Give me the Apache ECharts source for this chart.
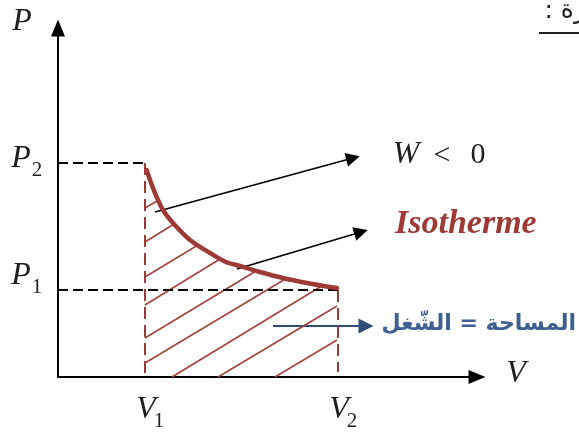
<!DOCTYPE html>
<html>
<head>
<meta charset="utf-8">
<script src="https://cdn.jsdelivr.net/npm/echarts@6/dist/echarts.min.js"></script>
<style>
  html, body { margin: 0; padding: 0; background: #fff; }
  #chart { width: 579px; height: 436px; }
</style>
</head>
<body>
<div id="chart"></div>
<script>
// Isothermal process on a P–V diagram: work = hatched area under the curve.
const volumeTicks = [87, 280];          // V1, V2
const volumeTickLabels = [['V', '1'], ['V', '2']];
const pressureTicks = [87, 214];        // P1, P2
const pressureTickLabels = [['P', '1'], ['P', '2']];

// isotherm, from (V1, P2) down to (V2, P1)
const isothermPoints = [
  [88.7, 207], [92, 197], [97, 184], [105, 167], [115, 154], [132, 137],
  [152, 124], [168, 115], [182, 111], [202, 105], [225, 99], [249, 94],
  [272, 90], [279, 89]
];

// hatch strokes filling the area under the isotherm
const hatchSegments = [
  [[87, 169], [99, 176]],
  [[87, 135], [116, 153]],
  [[87, 100], [140, 132]],
  [[87, 72], [162, 118]],
  [[87, 39], [198, 106]],
  [[87, 14], [229, 99]],
  [[114, 0], [262, 90]],
  [[160, 0], [279, 71]],
  [[217, 0], [279, 37]]
];

// pointer arrows towards the annotations
const blackArrows = [
  [[97, 165], [295, 219]],
  [[179, 108], [303, 145]]
];
const blueArrow = [[215, 51], [308, 51]];

const RED = '#9e3a36';
const HATCH = '#a3423d';
const BLUE_LINE = '#2f4c78';
const BLUE_TEXT = '#3d5f91';
const INK = '#1e1e1e';
const MATH = '"Liberation Serif", "DejaVu Serif", serif';

const chart = echarts.init(document.getElementById('chart'), null, { renderer: 'canvas' });

const axisCommon = {
  type: 'value',
  min: 0,
  axisLine: {
    show: true,
    symbol: ['none', 'triangle'],
    symbolSize: [14, 17],
    lineStyle: { color: '#000', width: 2 }
  },
  axisTick: { show: false },
  axisLabel: { show: false },
  splitLine: { show: false }
};

const series = [];

hatchSegments.forEach(function (seg) {
  series.push({
    type: 'line', data: seg, symbol: 'none', silent: true,
    lineStyle: { color: HATCH, width: 1.6 }
  });
});

// guide lines from the axes to the end states
series.push({
  type: 'line', symbol: 'none', silent: true,
  data: [[volumeTicks[0], pressureTicks[1]], [volumeTicks[0], 0]],
  lineStyle: { color: RED, width: 2, type: [12, 6] }
});
series.push({
  type: 'line', symbol: 'none', silent: true,
  data: [[volumeTicks[1], pressureTicks[0]], [volumeTicks[1], 5]],
  lineStyle: { color: RED, width: 2, type: [12, 6] }
});
series.push({
  type: 'line', symbol: 'none', silent: true,
  data: [[0, pressureTicks[1]], [volumeTicks[0], pressureTicks[1]]],
  lineStyle: { color: '#000', width: 2, type: [10, 5] }
});
series.push({
  type: 'line', symbol: 'none', silent: true,
  data: [[0, pressureTicks[0]], [volumeTicks[1], pressureTicks[0]]],
  lineStyle: { color: '#000', width: 2, type: [10, 5] }
});

// the isotherm itself
series.push({
  type: 'line', symbol: 'none', smooth: 0.3, silent: true,
  data: isothermPoints,
  lineStyle: { color: RED, width: 4.5, cap: 'round' }
});

series.push({
  type: 'lines', coordinateSystem: 'cartesian2d', silent: true,
  symbol: ['none', 'triangle'], symbolSize: 14,
  lineStyle: { color: '#000', width: 1.8, opacity: 1, curveness: 0 },
  data: blackArrows.map(function (a) { return { coords: a }; })
});
series.push({
  type: 'lines', coordinateSystem: 'cartesian2d', silent: true,
  symbol: ['none', 'triangle'], symbolSize: 15,
  lineStyle: { color: BLUE_LINE, width: 2, opacity: 1, curveness: 0 },
  data: [{ coords: blueArrow }]
});

chart.setOption({
  animation: false,
  backgroundColor: '#fff',
  grid: { left: 58, top: 28, right: 102, bottom: 59, containLabel: false },
  xAxis: Object.assign({}, axisCommon, { max: 419 }),
  yAxis: Object.assign({}, axisCommon, { max: 349 }),
  series: series
});

function txt(x, y, text, font, fill, align) {
  return {
    type: 'text', x: x, y: y, silent: true,
    style: {
      text: text, font: font, fill: fill,
      textAlign: align || 'center', textVerticalAlign: 'middle'
    }
  };
}

const graphics = [];

// tick labels with subscripts, placed from the axis scales
volumeTicks.forEach(function (v, i) {
  const p = chart.convertToPixel({ gridIndex: 0 }, [v, 0]);
  graphics.push(txt(p[0] + 1, p[1] + 33, volumeTickLabels[i][0], 'italic 32px ' + MATH, INK));
  graphics.push(txt(p[0] + 14, p[1] + 44, volumeTickLabels[i][1], '21px ' + MATH, INK));
});
pressureTicks.forEach(function (v, i) {
  const p = chart.convertToPixel({ gridIndex: 0 }, [0, v]);
  const lift = i === 0 ? -14 : -4;
  graphics.push(txt(p[0] - 37, p[1] + lift, pressureTickLabels[i][0], 'italic 32px ' + MATH, INK));
  graphics.push(txt(p[0] - 21, p[1] + lift + 11, pressureTickLabels[i][1], '21px ' + MATH, INK));
});

// axis names
graphics.push(txt(22, 22, 'P', 'italic 32px ' + MATH, INK));
graphics.push(txt(516, 374, 'V', 'italic 32px ' + MATH, INK));

// annotations
graphics.push(txt(406, 155, 'W', 'italic 32px ' + MATH, INK));
graphics.push(txt(442, 156, '<', '30px ' + MATH, INK));
graphics.push(txt(478, 155, '0', '30px ' + MATH, INK));
graphics.push(txt(395, 224, 'Isotherme', 'italic bold 34px ' + MATH, RED, 'left'));
graphics.push(txt(576, 324, 'المساحة = الشّغل', 'bold 22px "DejaVu Sans", sans-serif', BLUE_TEXT, 'right'));

// heading fragment at the top edge
graphics.push(txt(586, 11, '\u202Bرة :\u202C', '25px "DejaVu Sans", sans-serif', INK, 'right'));
graphics.push({
  type: 'line', silent: true,
  shape: { x1: 539, y1: 33, x2: 579, y2: 33 },
  style: { stroke: INK, lineWidth: 2 }
});

chart.setOption({ graphic: graphics });
</script>
</body>
</html>
